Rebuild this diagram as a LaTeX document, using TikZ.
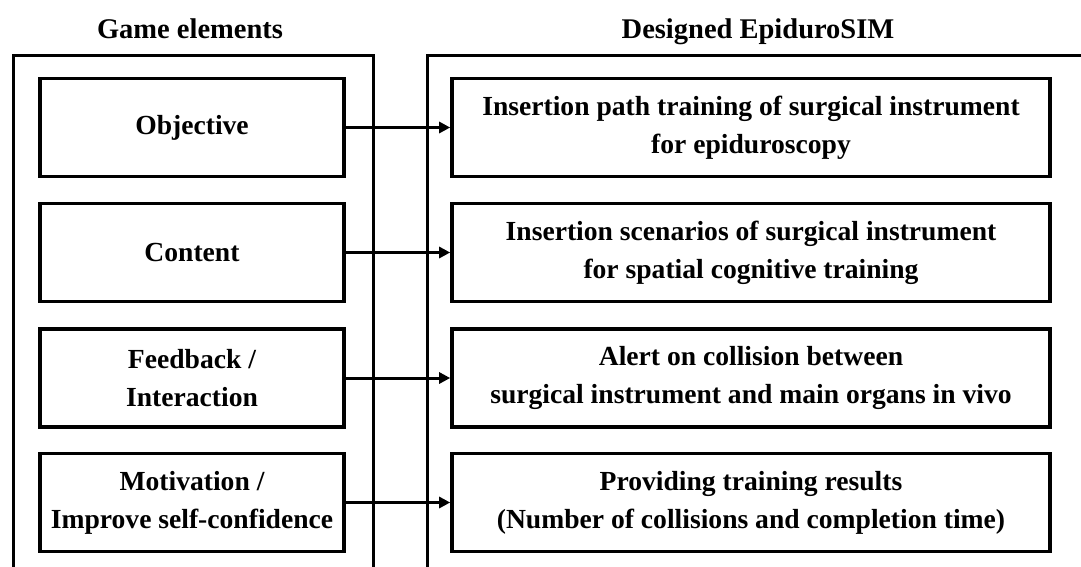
\documentclass[tikz,border=0pt]{standalone}
\usepackage{fontspec}
\setmainfont{Liberation Serif}
\usetikzlibrary{arrows.meta}
\begin{document}
\begin{tikzpicture}[x=1pt,y=-1pt,
  txt/.style={font=\fontsize{27.6}{38}\selectfont\bfseries},
  headtxt/.style={font=\fontsize{28.5}{38}\selectfont\bfseries,anchor=base},
  elem/.style={draw,line width=3.6pt,txt,align=center,minimum width=304pt,minimum height=98pt,inner sep=0pt},
  design/.style={draw,line width=3.6pt,txt,align=center,minimum width=598pt,minimum height=98pt,inner sep=0pt},
  frame/.style={line width=3pt},
  link/.style={line width=3pt,-{Triangle[length=11pt,width=11pt]}}]
\useasboundingbox (0,0) rectangle (1081,566);
\clip (0,0) rectangle (1081,566);
\fill[white] (0,0) rectangle (1081,566);
% headings
\node[headtxt] (h1) at (190,38) {Game elements};
\node[headtxt] (h2) at (758,38) {Designed EpiduroSIM};
% outer frames (cut off by the picture edge)
\draw[frame] (13,580) -- (13,55) -- (373,55) -- (373,580);
\draw[frame] (427,580) -- (427,55) -- (1095,55);
% left boxes
\node[elem] (g1) at (192,127.5) {Objective};
\node[elem] (g2) at (192,252.5) {Content};
\node[elem] (g3) at (192,378) {Feedback /\\Interaction};
\node[elem] (g4) at (192,502.5) {Motivation /\\Improve self-confidence};
% right boxes
\node[design] (d1) at (751,127.5) {Insertion path training of surgical instrument\\for epiduroscopy};
\node[design] (d2) at (751,252.5) {Insertion scenarios of surgical instrument\\for spatial cognitive training};
\node[design] (d3) at (751,378) {Alert on collision between\\surgical instrument and main organs in vivo};
\node[design] (d4) at (751,502.5) {Providing training results\\(Number of collisions and completion time)};
% connectors
\draw[link] (g1) -- (d1);
\draw[link] (g2) -- (d2);
\draw[link] (g3) -- (d3);
\draw[link] (g4) -- (d4);
\end{tikzpicture}
\end{document}
